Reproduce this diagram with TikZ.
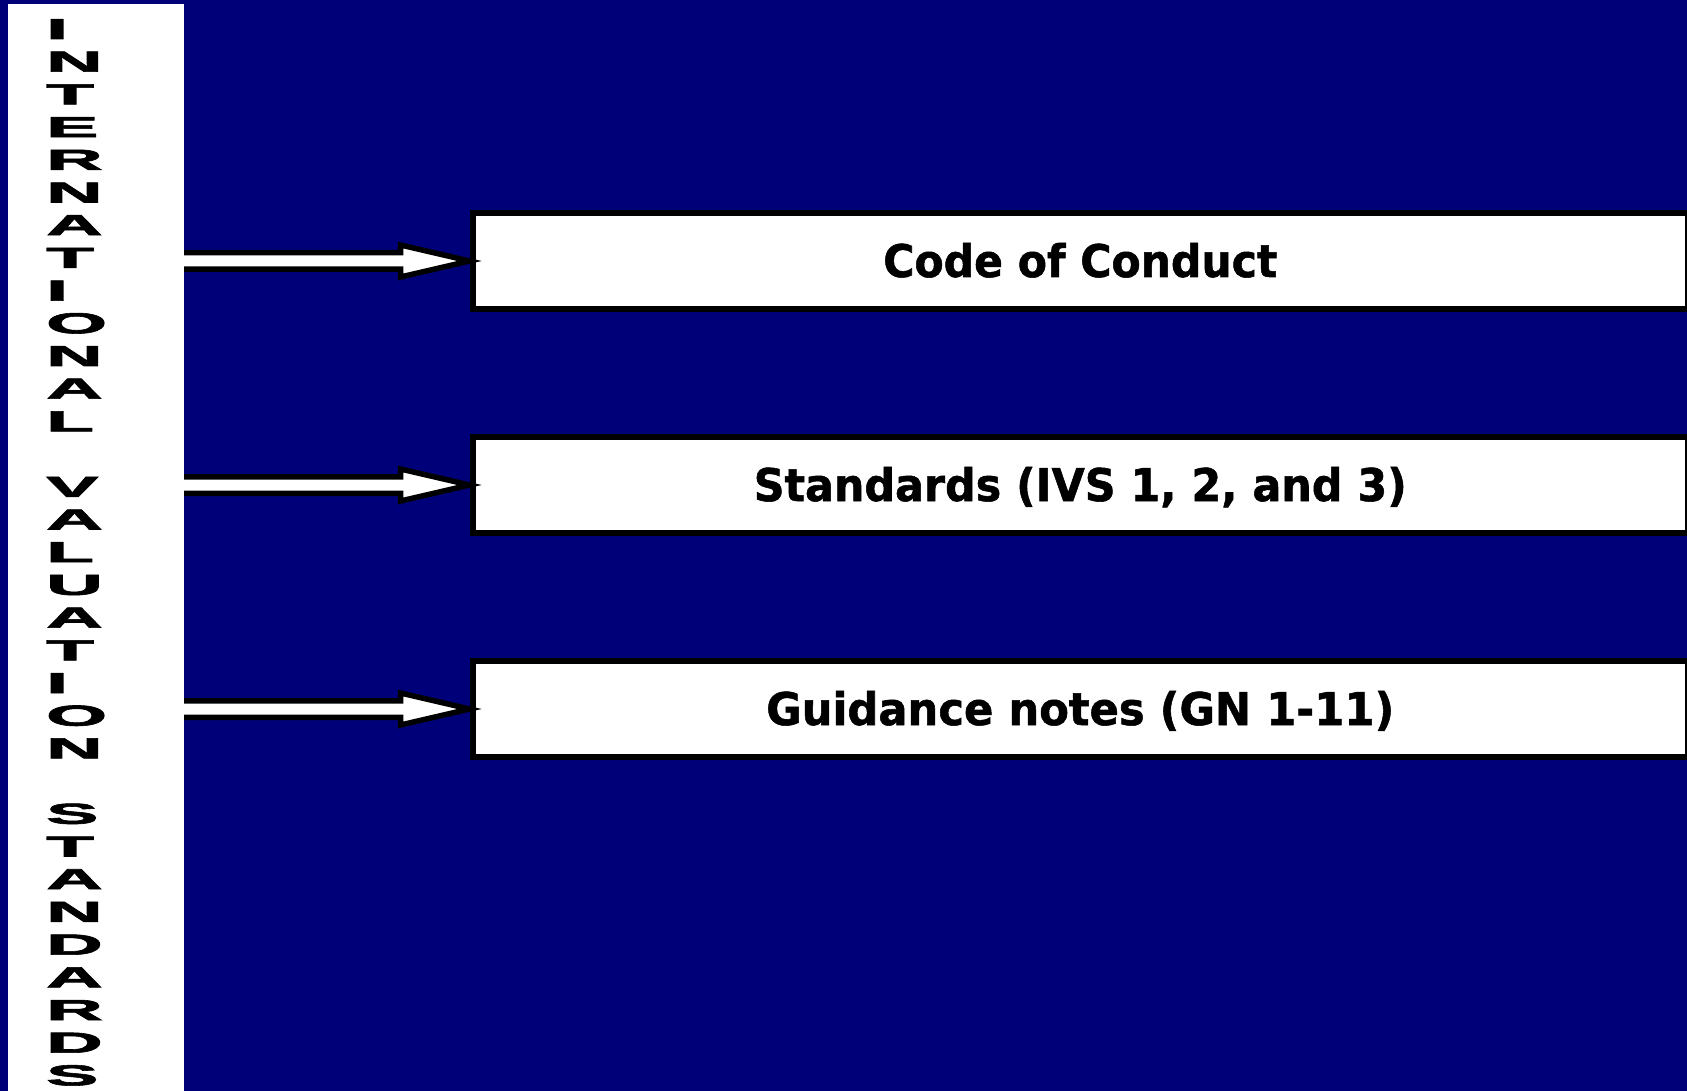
\documentclass[tikz,border=0pt]{standalone}
\usepackage{graphicx}
\usepackage{fontspec}
\setmainfont{DejaVu Sans}[BoldFeatures={FakeBold=1.2}]
\newfontfamily\lettersfont{Liberation Sans}[BoldFeatures={FakeBold=2}]
\usetikzlibrary{calc}
\definecolor{navybg}{RGB}{0,0,120}
\pgfdeclarelayer{bglayer}
\pgfdeclarelayer{arrowlayer}
\pgfdeclarelayer{toplayer}
\pgfsetlayers{bglayer,main,arrowlayer,toplayer}
\tikzset{
  panelbox/.style={fill=white, draw=none, inner sep=0pt, minimum width=176pt, minimum height=1100pt},
  letterbox/.style={inner sep=0pt, anchor=base west, text=black,
    font=\lettersfont\bfseries\fontsize{29pt}{29pt}\selectfont},
  itembox/.style={draw=black, fill=white, line width=6pt, inner sep=0pt,
    minimum width=1215.5pt, minimum height=96pt, text height=34pt, text depth=2pt,
    font=\bfseries\fontsize{45pt}{45pt}\selectfont},
  blockarrow/.style={draw=black, fill=white, line width=5.5pt, miter limit=10},
}
\newcommand\hollowarrow[2]{%
  \draw[blockarrow] let \p1=(#1), \p2=(#2) in
    (\x1-6pt,\y2+8.25pt) -- (\x2-69pt,\y2+8.25pt) -- (\x2-69pt,\y2+16pt) -- (\x2,\y2)
    -- (\x2-69pt,\y2-16pt) -- (\x2-69pt,\y2-8.25pt) -- (\x1-6pt,\y2-8.25pt) -- cycle;}
\begin{document}
\begin{tikzpicture}[x=1pt,y=-1pt]
\useasboundingbox (0,0) rectangle (1687,1091);
\clip (0,0) rectangle (1687,1091);
\begin{pgfonlayer}{bglayer}
  \fill[navybg] (0,0) rectangle (1687,1091);
\end{pgfonlayer}
% boxes
\node[itembox] (b1) at (1080.25,261) {\resizebox{394pt}{\height}{Code of Conduct}};
\node[itembox] (b2) at (1080.25,485) {\resizebox{653pt}{\height}{Standards (IVS 1, 2, and 3)}};
\node[itembox] (b3) at (1080.25,709) {\resizebox{628pt}{\height}{Guidance notes (GN 1-11)}};
% left panel
\begin{pgfonlayer}{toplayer}
  \node[panelbox, anchor=north west] (panel) at (8,4) {};
  \foreach \ch [count=\k from 0] in {I,N,T,E,R,N,A,T,I,O,N,A,L}
    \node[letterbox] (wa\k) at (46,39+\k*32.7) {\scalebox{2.7}[1]{\ch}};
  \foreach \ch [count=\k from 14] in {V,A,L,U,A,T,I,O,N}
    \node[letterbox] (wb\k) at (46,39+\k*32.7) {\scalebox{2.7}[1]{\ch}};
  \foreach \ch [count=\k from 24] in {S,T,A,N,D,A,R,D,S}
    \node[letterbox] (wc\k) at (46,39+\k*32.7) {\scalebox{2.7}[1]{\ch}};
\end{pgfonlayer}
% arrows
\begin{pgfonlayer}{arrowlayer}
  \hollowarrow{panel.east}{b1.west}
  \hollowarrow{panel.east}{b2.west}
  \hollowarrow{panel.east}{b3.west}
\end{pgfonlayer}
\end{tikzpicture}
\end{document}
